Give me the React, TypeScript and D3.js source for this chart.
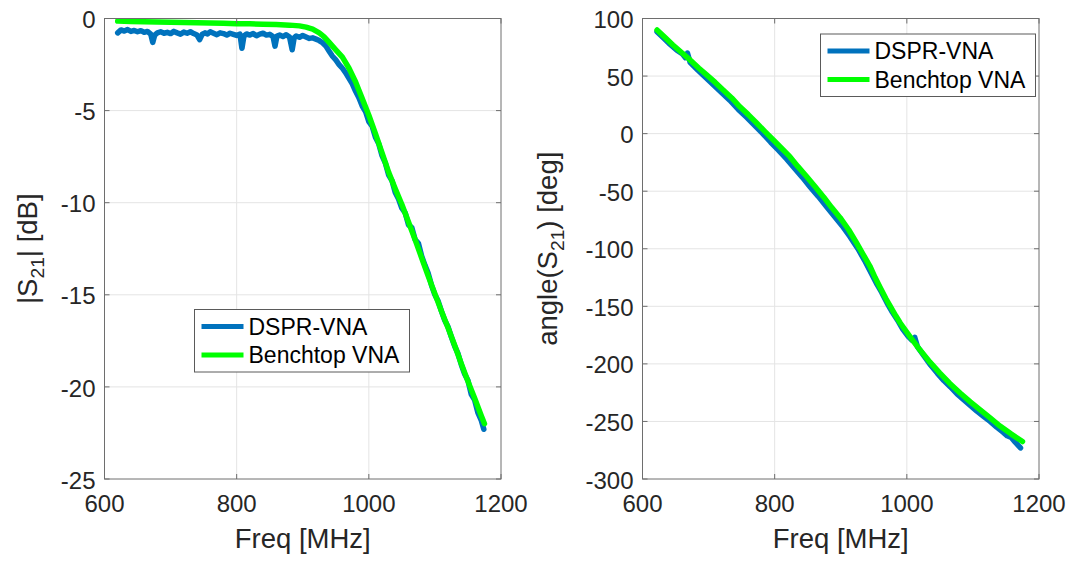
import * as d3 from 'd3';
import React from 'react';

const FONT = '"Liberation Sans", Arial, Helvetica, sans-serif';
const TEXT = '#262626';
const BLUE = '#0072BD';
const GREEN = '#00FF00';

const xTicks = [600, 800, 1000, 1200];
const magTicks = [-25, -20, -15, -10, -5, 0];
const phaseTicks = [-300, -250, -200, -150, -100, -50, 0, 50, 100];
const seriesNames = ['DSPR-VNA', 'Benchtop VNA'];

// |S21| [dB], DSPR-VNA (noisy)
const dsprMag: [number, number][] = [
  [620, -0.78], [625, -0.62], [630, -0.68], [635, -0.6], [640, -0.7], [645, -0.65],
  [650, -0.72], [655, -0.66], [660, -0.75], [665, -0.7], [670, -0.85], [673, -1.3],
  [676, -0.9], [680, -0.78], [685, -0.72], [690, -0.8], [695, -0.75], [700, -0.82],
  [705, -0.7], [710, -0.78], [715, -0.85], [720, -0.74], [725, -0.8], [730, -0.72],
  [735, -0.82], [740, -0.9], [744, -1.15], [748, -0.85], [752, -0.78], [756, -0.84],
  [760, -0.72], [765, -0.8], [770, -0.88], [775, -0.78], [780, -0.82], [785, -0.9],
  [790, -0.8], [795, -0.86], [800, -0.92], [805, -0.85], [808, -1.62], [811, -0.95],
  [815, -0.84], [820, -0.9], [825, -0.82], [830, -0.94], [835, -0.85], [840, -0.8],
  [845, -0.9], [850, -0.86], [855, -0.98], [858, -1.5], [861, -0.95], [865, -0.9],
  [870, -0.98], [875, -0.88], [880, -1.0], [884, -1.7], [887, -1.05], [890, -0.95],
  [895, -1.02], [900, -0.92], [905, -1.0], [910, -1.08], [915, -1.05], [920, -1.12],
  [925, -1.2], [930, -1.32], [935, -1.5], [940, -1.78], [945, -2.05], [950, -2.25],
  [955, -2.5], [960, -2.7], [965, -2.95], [970, -3.25], [975, -3.55], [980, -3.95],
  [985, -4.3], [990, -4.75], [995, -5.05], [1000, -5.6], [1005, -5.85], [1010, -6.45],
  [1015, -6.8], [1020, -7.45], [1025, -7.85], [1030, -8.5], [1035, -8.8], [1040, -9.45],
  [1045, -9.8], [1050, -10.3], [1055, -10.55], [1060, -11.2], [1065, -11.35], [1070, -12.0],
  [1075, -12.2], [1080, -12.9], [1085, -13.4], [1090, -13.85], [1095, -14.5], [1100, -15.0],
  [1105, -15.35], [1110, -15.9], [1115, -16.4], [1120, -16.75], [1125, -17.3], [1130, -17.8],
  [1135, -18.2], [1140, -18.8], [1145, -19.3], [1150, -19.65], [1155, -20.4], [1160, -20.7],
  [1165, -21.4], [1170, -21.8], [1174, -22.3],
];

// |S21| [dB], benchtop VNA
const benchMag: [number, number][] = [
  [620, -0.14], [640, -0.16], [660, -0.17], [680, -0.19], [700, -0.2], [720, -0.22],
  [740, -0.23], [760, -0.25], [780, -0.26], [800, -0.28], [820, -0.29], [840, -0.31],
  [860, -0.33], [880, -0.36], [895, -0.4], [905, -0.47], [915, -0.58], [925, -0.78],
  [932, -0.98], [940, -1.3], [950, -1.7], [960, -2.1], [970, -2.7], [980, -3.45],
  [990, -4.35], [1000, -5.25], [1010, -6.25], [1020, -7.3], [1030, -8.35], [1040, -9.25],
  [1050, -10.1], [1060, -11.05], [1070, -12.0], [1080, -13.0], [1090, -14.0], [1100, -14.95],
  [1110, -15.9], [1120, -16.8], [1130, -17.75], [1140, -18.75], [1150, -19.7], [1160, -20.6],
  [1170, -21.55], [1175, -22.0],
];

// angle(S21) [deg], DSPR-VNA
const dsprPhase: [number, number][] = [
  [622, 88.5], [632, 83], [642, 77.5], [652, 72.5], [660, 69.5], [665, 66], [668, 70],
  [672, 62], [684, 55], [696, 48.5], [708, 42], [720, 35.5], [732, 29], [745, 21],
  [758, 14], [770, 7], [782, 0], [794, -7.5], [806, -14.5], [818, -22], [830, -30],
  [842, -38], [854, -46.5], [866, -54.5], [878, -63], [890, -71.5], [902, -80],
  [914, -89.5], [926, -100], [936, -110], [946, -121], [955, -131], [962, -138],
  [970, -147], [978, -155], [986, -162], [994, -170], [1002, -176], [1008, -179.5],
  [1012, -177], [1016, -185], [1026, -193], [1036, -201], [1046, -208], [1056, -214.5],
  [1066, -220], [1076, -226], [1086, -231], [1096, -236], [1106, -241], [1116, -245.5],
  [1126, -250], [1136, -255], [1146, -259.5], [1152, -262.5], [1158, -264], [1164, -268],
  [1172, -273],
];

// angle(S21) [deg], benchtop VNA
const benchPhase: [number, number][] = [
  [622, 90], [635, 83], [646, 77], [660, 70], [672, 64], [685, 57], [697, 51], [710, 44.5],
  [722, 38], [735, 31], [747, 23.5], [760, 16.5], [773, 9], [785, 2], [798, -5.5],
  [810, -12.5], [823, -20], [835, -28.5], [848, -37], [861, -46], [874, -55], [886, -64],
  [899, -73], [912, -83.5], [924, -95], [934, -105], [944, -115], [952, -125], [960, -134],
  [968, -143], [975, -150], [983, -158], [990, -164.5], [1005, -176.5], [1020, -188],
  [1035, -198.5], [1050, -208], [1065, -217], [1081, -225.5], [1096, -233], [1111, -240],
  [1126, -247], [1141, -254], [1158, -261], [1175, -267.5],
];

const TOP = 18.5;
const BOTTOM = 479;
const PLOT_W = 396.5;

type PanelProps = {
  left: number;
  yDomain: [number, number];
  yTicks: number[];
  blue: [number, number][];
  green: [number, number][];
  legend: { x: number; y: number };
  yLabel: React.ReactNode;
  yLabelX: number;
};

function Panel({ left, yDomain, yTicks, blue, green, legend, yLabel, yLabelX }: PanelProps) {
  const x = d3.scaleLinear().domain([600, 1200]).range([left, left + PLOT_W]);
  const y = d3.scaleLinear().domain(yDomain).range([BOTTOM, TOP]);
  const right = left + PLOT_W;
  const line = d3
    .line<[number, number]>()
    .x((d) => x(d[0]))
    .y((d) => y(d[1]));
  const tickLen = 5;
  const frame = '#6e6e6e';
  const midY = (TOP + BOTTOM) / 2;

  return (
    <g>
      {/* grid */}
      {xTicks.slice(1, -1).map((t) => (
        <line key={'gx' + t} x1={x(t)} x2={x(t)} y1={TOP} y2={BOTTOM} stroke="#e4e4e4" strokeWidth={1} />
      ))}
      {yTicks.slice(1, -1).map((t) => (
        <line key={'gy' + t} x1={left} x2={right} y1={y(t)} y2={y(t)} stroke="#e4e4e4" strokeWidth={1} />
      ))}

      {/* curves */}
      <path d={line(blue) ?? ''} fill="none" stroke={BLUE} strokeWidth={5.5} strokeLinejoin="round" strokeLinecap="round" />
      <path d={line(green) ?? ''} fill="none" stroke={GREEN} strokeWidth={5.5} strokeLinejoin="round" strokeLinecap="round" />

      {/* frame + inward ticks on all sides */}
      <rect x={left} y={TOP} width={PLOT_W} height={BOTTOM - TOP} fill="none" stroke={frame} strokeWidth={1} />
      {xTicks.map((t) => (
        <g key={'tx' + t}>
          <line x1={x(t)} x2={x(t)} y1={BOTTOM} y2={BOTTOM - tickLen} stroke={frame} />
          <line x1={x(t)} x2={x(t)} y1={TOP} y2={TOP + tickLen} stroke={frame} />
          <text x={x(t)} y={511.5} textAnchor="middle" fontSize={24} fill={TEXT} fontFamily={FONT}>
            {t}
          </text>
        </g>
      ))}
      {yTicks.map((t) => (
        <g key={'ty' + t}>
          <line x1={left} x2={left + tickLen} y1={y(t)} y2={y(t)} stroke={frame} />
          <line x1={right} x2={right - tickLen} y1={y(t)} y2={y(t)} stroke={frame} />
          <text x={left - 9} y={y(t) + 9.6} textAnchor="end" fontSize={24} fill={TEXT} fontFamily={FONT}>
            {t}
          </text>
        </g>
      ))}

      {/* axis labels */}
      <text x={left + PLOT_W / 2} y={548} textAnchor="middle" fontSize={27.5} fill={TEXT} fontFamily={FONT}>
        Freq [MHz]
      </text>
      <text
        transform={`translate(${yLabelX},${midY}) rotate(-90)`}
        textAnchor="middle"
        fontSize={27.5}
        fill={TEXT}
        fontFamily={FONT}
      >
        {yLabel}
      </text>

      {/* legend */}
      <g transform={`translate(${legend.x},${legend.y})`}>
        <rect x={0} y={0} width={215} height={62.5} fill="white" stroke="#5a5a5a" strokeWidth={1} />
        {seriesNames.map((name, i) => (
          <g key={name} transform={`translate(0,${17 + i * 28.5})`}>
            <line x1={7} x2={49} y1={0} y2={0} stroke={i === 0 ? BLUE : GREEN} strokeWidth={5} />
            <text x={54} y={8.3} fontSize={23} fill="#000" fontFamily={FONT}>
              {name}
            </text>
          </g>
        ))}
      </g>
    </g>
  );
}

export default function App() {
  return (
    <svg
      width={1076}
      height={561}
      viewBox="0 0 1076 561"
      style={{ position: 'absolute', left: 0, top: 0, background: 'white' }}
    >
      <rect width={1076} height={561} fill="white" />
      <Panel
        left={104.5}
        yDomain={[-25, 0]}
        yTicks={magTicks}
        blue={dsprMag}
        green={benchMag}
        legend={{ x: 194.5, y: 309.5 }}
        yLabelX={37}
        yLabel={
          <>
            |S
            <tspan fontSize="70%" dy={7}>21</tspan>
            <tspan dy={-7}>| [dB]</tspan>
          </>
        }
      />
      <Panel
        left={642.5}
        yDomain={[-300, 100]}
        yTicks={phaseTicks}
        blue={dsprPhase}
        green={benchPhase}
        legend={{ x: 820.5, y: 34 }}
        yLabelX={557}
        yLabel={
          <>
            angle(S
            <tspan fontSize="70%" dy={7}>21</tspan>
            <tspan dy={-7}>) [deg]</tspan>
          </>
        }
      />
    </svg>
  );
}
